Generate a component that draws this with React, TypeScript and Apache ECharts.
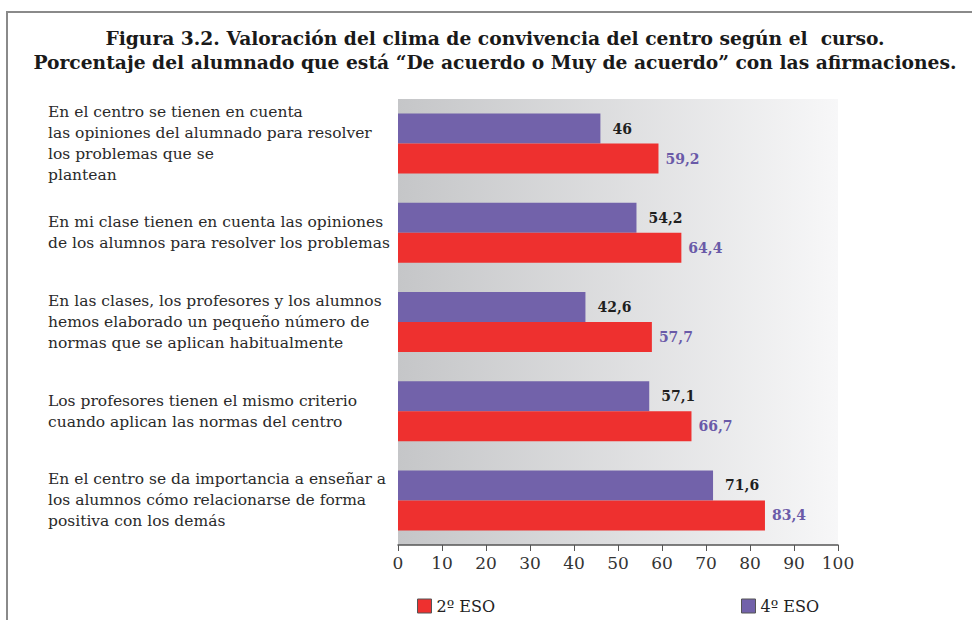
import React, { useEffect, useRef } from "react";
import * as echarts from "echarts";

const titleLines = [
  "Figura 3.2. Valoración del clima de convivencia del centro según el  curso.",
  "Porcentaje del alumnado que está “De acuerdo o Muy de acuerdo” con las afirmaciones.",
];

const categories = [
  "En el centro se tienen en cuenta\nlas opiniones del alumnado para resolver\nlos problemas que se\nplantean",
  "En mi clase tienen en cuenta las opiniones\nde los alumnos para resolver los problemas",
  "En las clases, los profesores y los alumnos\nhemos elaborado un pequeño número de\nnormas que se aplican habitualmente",
  "Los profesores tienen el mismo criterio\ncuando aplican las normas del centro",
  "En el centro se da importancia a enseñar a\nlos alumnos cómo relacionarse de forma\npositiva con los demás",
];

const eso4 = [46, 54.2, 42.6, 57.1, 71.6];
const eso2 = [59.2, 64.4, 57.7, 66.7, 83.4];

const seriesNames = ["2º ESO", "4º ESO"];

const SERIF = "'DejaVu Serif', serif";

export default function App() {
  const ref = useRef<HTMLDivElement>(null);
  useEffect(() => {
    if (!ref.current) return;
    const chart = echarts.init(ref.current, null, { renderer: "svg" });
    const fmt = (p: any) => String(p.value).replace(".", ",");
    chart.setOption({
      animation: false,
      backgroundColor: "#ffffff",
      graphic: [
        {
          type: "polyline",
          shape: { points: [[7, 620], [7, 12], [972, 12]] },
          style: { stroke: "#8a8a8a", lineWidth: 2, fill: null },
        },
        {
          type: "text",
          x: 495,
          y: 26,
          style: {
            text: titleLines.join("\n"),
            textAlign: "center",
            font: `bold 18.7px ${SERIF}`,
            lineHeight: 24,
            fill: "#1a1a1a",
          },
        },
      ],
      grid: {
        left: 398,
        right: 134,
        top: 99,
        bottom: 75,
        show: true,
        borderWidth: 0,
        backgroundColor: new echarts.graphic.LinearGradient(0, 0, 1, 0, [
          { offset: 0, color: "#c5c6c8" },
          { offset: 1, color: "#f7f7f8" },
        ]),
      },
      legend: [
        {
          data: [seriesNames[0]],
          left: 412,
          top: 593,
          icon: "rect",
          itemWidth: 14,
          itemHeight: 14,
          itemStyle: { borderColor: "#555", borderWidth: 1 },
          textStyle: { fontFamily: SERIF, fontSize: 16, color: "#222" },
        },
        {
          data: [seriesNames[1]],
          left: 736,
          top: 593,
          icon: "rect",
          itemWidth: 14,
          itemHeight: 14,
          itemStyle: { borderColor: "#555", borderWidth: 1 },
          textStyle: { fontFamily: SERIF, fontSize: 16, color: "#222" },
        },
      ],
      xAxis: {
        type: "value",
        min: 0,
        max: 100,
        interval: 10,
        axisLine: { show: true, lineStyle: { color: "#555", width: 1.5 } },
        axisTick: { show: true, length: 6, lineStyle: { color: "#555" } },
        splitLine: { show: false },
        axisLabel: {
          fontFamily: SERIF,
          fontSize: 17,
          color: "#333",
          margin: 9,
        },
      },
      yAxis: {
        type: "category",
        inverse: true,
        data: categories,
        axisLine: { show: false },
        axisTick: { show: false },
        axisLabel: {
          align: "left",
          margin: 350,
          fontFamily: SERIF,
          fontSize: 15.5,
          lineHeight: 21,
          color: "#2a2a2a",
        },
      },
      series: [
        {
          name: seriesNames[1],
          type: "bar",
          data: eso4,
          barWidth: 30,
          barGap: "0%",
          itemStyle: { color: "#7262aa" },
          label: {
            show: true,
            position: "right",
            distance: 12,
            formatter: fmt,
            fontFamily: SERIF,
            fontWeight: "bold",
            fontSize: 14,
            color: "#1f1f1f",
          },
        },
        {
          name: seriesNames[0],
          type: "bar",
          data: eso2,
          barWidth: 30,
          barGap: "0%",
          itemStyle: { color: "#ee302f" },
          label: {
            show: true,
            position: "right",
            distance: 7,
            formatter: fmt,
            fontFamily: SERIF,
            fontWeight: "bold",
            fontSize: 14,
            color: "#6a5aa8",
          },
        },
      ],
    });
    return () => chart.dispose();
  }, []);
  return (
    <div
      ref={ref}
      style={{ position: "fixed", left: 0, top: 0, width: 972, height: 620 }}
    />
  );
}
